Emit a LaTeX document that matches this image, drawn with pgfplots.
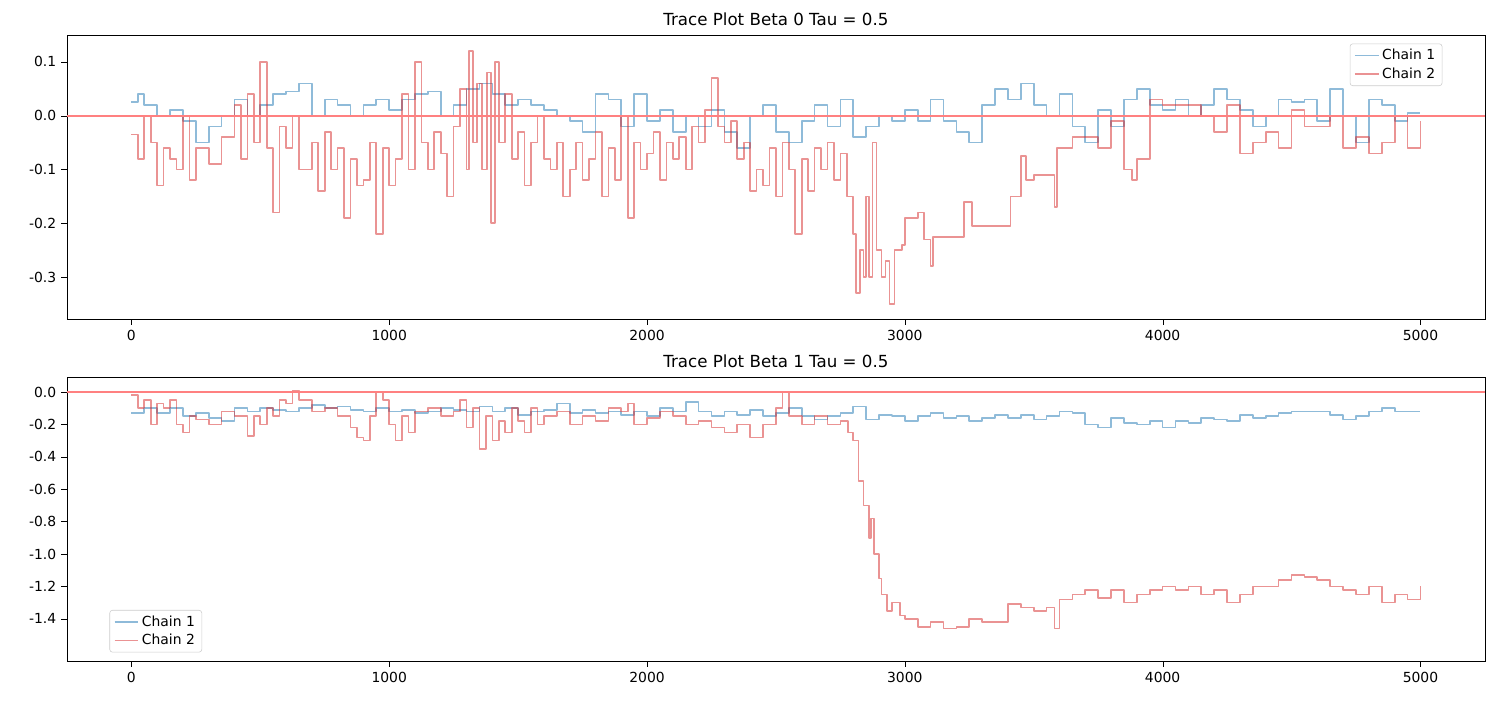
\documentclass[border=0pt]{standalone}
\usepackage{pgfplots}
\pgfplotsset{compat=1.18}
\usepackage{fontspec}
\setmainfont{DejaVu Sans}
\definecolor{tabblue}{HTML}{1F77B4}
\definecolor{tabred}{HTML}{D62728}
\definecolor{hl}{HTML}{FF8080}
\pgfplotsset{
  tr/.style={scale only axis, width=1021pt, height=204.5pt, xmin=-250, xmax=5250,
    xtick={0,1000,2000,3000,4000,5000},
    /pgf/number format/assume math mode=true,
    /pgf/number format/1000 sep={},
    tick style={black}, tick align=outside, tick pos=left,
    ticklabel style={font=\fontsize{10}{12}\selectfont},
    title style={font=\fontsize{12}{14}\selectfont, yshift=-3pt},
    legend cell align=left,
    legend style={font=\fontsize{10}{12}\selectfont, draw=black!20, rounded corners=2pt},
    legend image code/.code={\draw[##1, line width=1.1pt] (0pt,0pt) -- (0.6cm,0pt);}},
  c1/.style={draw=tabblue, draw opacity=0.5, line width=1.2pt, line join=round, const plot, no marks},
  c2/.style={draw=tabred, draw opacity=0.5, line width=1.2pt, line join=round, const plot, no marks},
}
\begin{document}
\begin{tikzpicture}
\path (-48.2pt,-274.3pt) rectangle (1031.8pt,229.7pt);
\begin{axis}[tr, at={(0,0)}, ymin=-0.378, ymax=0.150, ytick={-0.3,-0.2,-0.1,0,0.1},
  yticklabel style={/pgf/number format/fixed,/pgf/number format/precision=1,/pgf/number format/fixed zerofill},
  title={Trace Plot Beta 0 Tau = 0.5}, legend pos=north east]
\addplot[c1] coordinates {(0,0.025)(25,0.04)(50,0.02)(100,0.0)(150,0.01)(200,-0.01)(250,-0.05)(300,-0.02)(350,0.0)(400,0.03)(450,0.0)(500,0.02)(550,0.04)(600,0.045)(650,0.06)(700,0.0)(750,0.03)(800,0.02)(850,0.0)(900,0.02)(950,0.03)(1000,0.01)(1050,0.03)(1100,0.04)(1150,0.045)(1200,0.0)(1250,0.02)(1300,0.05)(1350,0.06)(1400,0.04)(1450,0.02)(1500,0.03)(1550,0.02)(1600,0.01)(1650,0.0)(1700,-0.01)(1750,-0.03)(1800,0.04)(1850,0.03)(1900,-0.02)(1950,0.04)(2000,-0.01)(2050,0.01)(2100,-0.03)(2150,0.0)(2200,-0.02)(2250,0.01)(2300,-0.03)(2350,-0.06)(2400,0.0)(2450,0.02)(2500,-0.03)(2550,-0.05)(2600,-0.01)(2650,0.02)(2700,-0.02)(2750,0.03)(2800,-0.04)(2850,-0.02)(2900,0.0)(2950,-0.01)(3000,0.01)(3050,-0.01)(3100,0.03)(3150,-0.01)(3200,-0.03)(3250,-0.05)(3300,0.02)(3350,0.05)(3400,0.03)(3450,0.06)(3500,0.02)(3550,0.0)(3600,0.04)(3650,-0.02)(3700,-0.05)(3750,0.01)(3800,-0.02)(3850,0.03)(3900,0.05)(3950,0.02)(4000,0.01)(4050,0.03)(4100,0.0)(4150,0.02)(4200,0.05)(4250,0.03)(4300,0.01)(4350,-0.02)(4400,0.0)(4450,0.03)(4500,0.025)(4550,0.03)(4600,-0.01)(4650,0.05)(4700,0.0)(4750,-0.05)(4800,0.03)(4850,0.02)(4900,-0.01)(4950,0.005)(5000,0.005)};
\addlegendentry{Chain 1}
\addplot[c2] coordinates {(0,-0.035)(25,-0.08)(50,0.0)(75,-0.05)(100,-0.13)(125,-0.06)(150,-0.08)(175,-0.1)(200,0.0)(225,-0.12)(250,-0.06)(300,-0.09)(350,-0.04)(400,0.02)(425,-0.08)(450,0.04)(475,-0.05)(500,0.1)(525,-0.06)(550,-0.18)(575,-0.02)(600,-0.06)(625,0.0)(650,-0.1)(700,-0.05)(725,-0.14)(750,-0.03)(775,-0.1)(800,-0.06)(825,-0.19)(850,-0.08)(875,-0.13)(900,-0.12)(925,-0.05)(950,-0.22)(975,-0.06)(1000,-0.13)(1025,-0.08)(1050,0.04)(1075,-0.1)(1100,0.1)(1125,-0.05)(1150,-0.1)(1175,-0.03)(1200,-0.07)(1225,-0.15)(1250,-0.02)(1275,0.05)(1300,-0.1)(1310,0.12)(1325,-0.05)(1340,0.06)(1360,-0.1)(1380,0.08)(1395,-0.2)(1410,0.1)(1425,-0.05)(1450,0.04)(1475,-0.08)(1500,-0.03)(1525,-0.13)(1550,-0.05)(1575,0.0)(1600,-0.08)(1625,-0.1)(1650,-0.05)(1675,-0.15)(1700,-0.1)(1725,-0.05)(1750,-0.12)(1775,-0.08)(1800,-0.03)(1825,-0.15)(1850,-0.06)(1875,-0.12)(1900,0.0)(1925,-0.19)(1950,-0.05)(1975,-0.1)(2000,-0.07)(2025,-0.03)(2050,-0.12)(2075,-0.05)(2100,-0.08)(2125,-0.04)(2150,-0.1)(2175,-0.02)(2200,-0.05)(2225,0.01)(2250,0.07)(2275,-0.02)(2300,-0.05)(2325,-0.01)(2350,-0.08)(2375,-0.05)(2400,-0.14)(2425,-0.1)(2450,-0.13)(2475,-0.06)(2500,-0.15)(2525,-0.05)(2550,-0.1)(2575,-0.22)(2600,-0.08)(2625,-0.14)(2650,-0.06)(2675,-0.1)(2700,-0.05)(2725,-0.12)(2750,-0.07)(2775,-0.15)(2800,-0.22)(2810,-0.33)(2825,-0.25)(2840,-0.3)(2850,-0.15)(2860,-0.3)(2875,-0.05)(2890,-0.25)(2910,-0.3)(2925,-0.27)(2940,-0.35)(2960,-0.25)(2990,-0.24)(3000,-0.19)(3050,-0.18)(3075,-0.23)(3100,-0.28)(3110,-0.225)(3200,-0.225)(3230,-0.16)(3260,-0.205)(3400,-0.205)(3410,-0.15)(3450,-0.075)(3470,-0.12)(3500,-0.11)(3550,-0.11)(3580,-0.17)(3590,-0.06)(3600,-0.06)(3650,-0.04)(3700,-0.04)(3750,-0.06)(3800,-0.01)(3850,-0.1)(3880,-0.12)(3900,-0.08)(3950,0.03)(4000,0.02)(4100,0.02)(4150,0.0)(4200,-0.03)(4250,0.02)(4300,-0.07)(4350,-0.05)(4400,-0.03)(4450,-0.06)(4500,0.01)(4550,-0.02)(4600,-0.02)(4650,0.0)(4700,-0.06)(4750,-0.04)(4800,-0.07)(4850,-0.05)(4900,0.0)(4950,-0.06)(5000,-0.01)};
\addlegendentry{Chain 2}
\addplot[draw=hl, line width=1.2pt, no marks, forget plot] coordinates {(-250,0)(5250,0)};
\end{axis}
\begin{axis}[tr, at={(0,-246.2pt)}, ymin=-1.66, ymax=0.093, ytick={-1.4,-1.2,-1.0,-0.8,-0.6,-0.4,-0.2,0},
  yticklabel style={/pgf/number format/fixed,/pgf/number format/precision=1,/pgf/number format/fixed zerofill},
  title={Trace Plot Beta 1 Tau = 0.5}, legend pos=south west]
\addplot[c1] coordinates {(0,-0.13)(50,-0.1)(100,-0.13)(150,-0.1)(200,-0.15)(250,-0.13)(300,-0.16)(350,-0.18)(400,-0.1)(450,-0.12)(500,-0.1)(550,-0.11)(600,-0.12)(650,-0.1)(700,-0.08)(750,-0.1)(800,-0.09)(850,-0.11)(900,-0.12)(950,-0.1)(1000,-0.12)(1050,-0.11)(1100,-0.13)(1150,-0.12)(1200,-0.1)(1250,-0.11)(1300,-0.12)(1350,-0.09)(1400,-0.12)(1450,-0.1)(1500,-0.14)(1550,-0.12)(1600,-0.11)(1650,-0.07)(1700,-0.13)(1750,-0.11)(1800,-0.13)(1850,-0.12)(1900,-0.14)(1950,-0.12)(2000,-0.15)(2050,-0.1)(2100,-0.12)(2150,-0.06)(2200,-0.12)(2250,-0.15)(2300,-0.12)(2350,-0.14)(2400,-0.11)(2450,-0.15)(2500,-0.13)(2550,-0.1)(2600,-0.15)(2650,-0.17)(2700,-0.15)(2750,-0.13)(2800,-0.09)(2850,-0.17)(2900,-0.14)(2950,-0.15)(3000,-0.18)(3050,-0.15)(3100,-0.13)(3150,-0.16)(3200,-0.15)(3250,-0.18)(3300,-0.16)(3350,-0.14)(3400,-0.16)(3450,-0.14)(3500,-0.17)(3550,-0.15)(3600,-0.12)(3650,-0.13)(3700,-0.2)(3750,-0.22)(3800,-0.16)(3850,-0.19)(3900,-0.2)(3950,-0.18)(4000,-0.22)(4050,-0.18)(4100,-0.19)(4150,-0.16)(4200,-0.17)(4250,-0.18)(4300,-0.14)(4350,-0.16)(4400,-0.15)(4450,-0.13)(4500,-0.12)(4550,-0.12)(4600,-0.12)(4650,-0.14)(4700,-0.17)(4750,-0.15)(4800,-0.12)(4850,-0.1)(4900,-0.12)(4950,-0.12)(5000,-0.12)};
\addlegendentry{Chain 1}
\addplot[c2] coordinates {(0,-0.02)(25,-0.1)(50,-0.05)(75,-0.2)(100,-0.07)(125,-0.1)(150,-0.05)(175,-0.2)(200,-0.25)(225,-0.15)(250,-0.17)(300,-0.2)(350,-0.12)(400,-0.15)(450,-0.27)(475,-0.15)(500,-0.2)(525,-0.1)(550,-0.15)(575,-0.05)(600,-0.07)(625,0.01)(650,-0.05)(700,-0.12)(750,-0.1)(800,-0.15)(850,-0.22)(875,-0.28)(900,-0.3)(925,-0.15)(950,0.0)(975,-0.05)(1000,-0.2)(1025,-0.3)(1050,-0.15)(1075,-0.25)(1100,-0.12)(1150,-0.1)(1200,-0.15)(1250,-0.12)(1275,-0.05)(1300,-0.22)(1325,-0.1)(1350,-0.35)(1375,-0.15)(1400,-0.3)(1425,-0.18)(1450,-0.25)(1475,-0.1)(1500,-0.18)(1525,-0.25)(1550,-0.1)(1575,-0.2)(1600,-0.15)(1650,-0.12)(1700,-0.2)(1750,-0.15)(1800,-0.18)(1850,-0.1)(1900,-0.12)(1925,-0.07)(1950,-0.2)(2000,-0.16)(2050,-0.12)(2100,-0.15)(2150,-0.2)(2200,-0.18)(2250,-0.22)(2300,-0.25)(2350,-0.2)(2400,-0.28)(2450,-0.2)(2500,-0.1)(2525,0.0)(2550,-0.15)(2600,-0.2)(2650,-0.15)(2700,-0.2)(2750,-0.18)(2780,-0.25)(2800,-0.3)(2820,-0.55)(2840,-0.7)(2860,-0.9)(2870,-0.78)(2880,-1.0)(2900,-1.15)(2910,-1.25)(2930,-1.35)(2950,-1.3)(2980,-1.38)(3000,-1.4)(3050,-1.45)(3100,-1.42)(3150,-1.46)(3200,-1.45)(3250,-1.4)(3300,-1.42)(3350,-1.42)(3400,-1.31)(3450,-1.33)(3500,-1.35)(3550,-1.33)(3580,-1.46)(3600,-1.28)(3650,-1.25)(3700,-1.22)(3750,-1.27)(3800,-1.22)(3850,-1.3)(3900,-1.25)(3950,-1.22)(4000,-1.2)(4050,-1.22)(4100,-1.2)(4150,-1.25)(4200,-1.22)(4250,-1.3)(4300,-1.25)(4350,-1.2)(4400,-1.2)(4450,-1.16)(4500,-1.13)(4550,-1.14)(4600,-1.16)(4650,-1.2)(4700,-1.22)(4750,-1.25)(4800,-1.2)(4850,-1.3)(4900,-1.25)(4950,-1.28)(5000,-1.2)};
\addlegendentry{Chain 2}
\addplot[draw=hl, line width=1.2pt, no marks, forget plot] coordinates {(-250,0)(5250,0)};
\end{axis}
\end{tikzpicture}
\end{document}
